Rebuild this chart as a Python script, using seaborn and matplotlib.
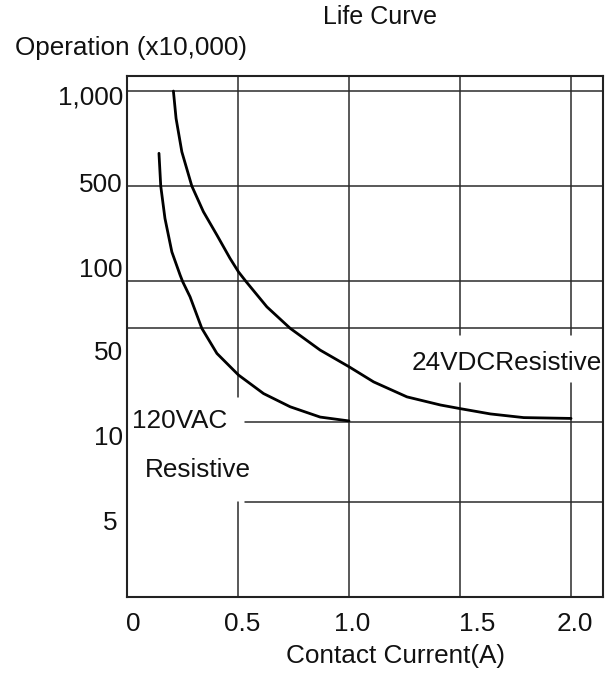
import numpy as np
import pandas as pd
import seaborn as sns
import matplotlib.pyplot as plt
from matplotlib.transforms import ScaledTranslation

# life curves (operations x10,000)
dc_current = [0.209, 0.221, 0.247, 0.292, 0.344, 0.405, 0.464, 0.502, 0.537, 0.630,
              0.735, 0.870, 1.0, 1.111, 1.261, 1.412, 1.5, 1.637, 1.787, 2.0]
dc_life = [1000, 819, 642, 500, 324, 218, 147, 117, 99, 68.4,
           49.8, 34.3, 25.8, 19.9, 15.4, 13.4, 12.6, 11.5, 10.8, 10.65]

ac_current = [0.144, 0.152, 0.171, 0.202, 0.239, 0.251, 0.284, 0.337, 0.405, 0.502,
              0.615, 0.735, 0.870, 1.0]
ac_life = [635, 500, 289, 164, 111, 99, 79.3, 49.8, 32.4, 22.4,
           16.3, 13.0, 10.9, 10.2]

y_ticks = [5, 10, 50, 100, 500, 1000]
y_tick_labels = ["5", "10", "50", "100", "500", "1,000"]
x_ticks = [0, 0.5, 1.0, 1.5, 2.0]
x_tick_labels = ["0", "0.5", "1.0", "1.5", "2.0"]

# the printed axis is not a true log axis: each gridline has its own row,
# so map log(value) piecewise onto those rows
anchor_logs = np.log10([1, 5, 10, 50, 100, 500, 1000, 10000])
anchor_rows = -np.array([688, 502, 422, 328, 281, 186, 91, -225.0])


def fwd(v):
    v = np.clip(np.asarray(v, dtype=float), 1e-6, None)
    return np.interp(np.log10(v), anchor_logs, anchor_rows)


def inv(p):
    return 10 ** np.interp(p, anchor_rows, anchor_logs)


def main():
    sns.set_theme(style="white")
    plt.rcParams["font.family"] = ["Liberation Sans", "DejaVu Sans"]
    fs = 18.8

    df = pd.concat([
        pd.DataFrame({"current": dc_current, "life": dc_life, "load": "24VDC"}),
        pd.DataFrame({"current": ac_current, "life": ac_life, "load": "120VAC"}),
    ])

    fig = plt.figure(figsize=(6.06, 6.76), dpi=100)
    ax = fig.add_axes([127 / 606, 79 / 676, 476 / 606, 521 / 676])
    ax.set_yscale("function", functions=(fwd, inv))

    sns.lineplot(data=df, x="current", y="life", hue="load",
                 palette={"24VDC": "black", "120VAC": "black"},
                 estimator=None, sort=False, legend=False, lw=2.0, ax=ax, zorder=3)

    ax.set_xlim(0, 2.144)
    ax.set_ylim(2.2, 1116)

    # grid, with the gaps the printed chart leaves around its labels
    gc = dict(color="#2b2b2b", lw=1.1, zorder=1)
    for v in [1000, 500, 100, 50]:
        ax.axhline(v, **gc)
    for v in [10, 5]:
        ax.axhline(v, xmin=0.247, xmax=1, **gc)
    ax.axvline(0.5, ymin=0, ymax=0.182, **gc)
    ax.axvline(0.5, ymin=0.384, ymax=1, **gc)
    ax.axvline(1.0, **gc)
    for v in [1.5, 2.0]:
        ax.axvline(v, ymin=0, ymax=0.411, **gc)
        ax.axvline(v, ymin=0.503, ymax=1, **gc)

    for s in ax.spines.values():
        s.set_visible(True)
        s.set_color("#222222")
        s.set_linewidth(1.5)

    ax.tick_params(axis="both", length=0, labelsize=fs, colors="#111111")
    ax.tick_params(axis="y", pad=3)
    ax.tick_params(axis="x", pad=11)
    ax.set_yticks(y_ticks)
    ax.set_yticklabels(y_tick_labels)
    ax.set_xticks(x_ticks)
    ax.set_xticklabels(x_tick_labels)
    ax.yaxis.set_minor_locator(plt.NullLocator())

    # scanned labels do not sit exactly on their gridlines
    y_shift = [(-5, 18), (0, 13), (0, 22), (0, -14), (0, -4), (0, 3.5)]
    for lab, (dx, dy) in zip(ax.get_yticklabels(), y_shift):
        lab.set_transform(lab.get_transform() + ScaledTranslation(dx / 100, -dy / 100, fig.dpi_scale_trans))
    x_shift = [6, 4, 3, 17, 4]
    for lab, dx in zip(ax.get_xticklabels(), x_shift):
        lab.set_transform(lab.get_transform() + ScaledTranslation(dx / 100, 0, fig.dpi_scale_trans))

    ax.set_xlabel("Contact Current(A)", fontsize=fs, color="#111111")
    ax.xaxis.set_label_coords(0.565, -0.09)
    ax.set_ylabel("")

    ax.text(1.284, 27.5, "24VDCResistive", fontsize=fs, ha="left", va="center", color="#111111")
    ax.text(0.023, 10.2, "120VAC", fontsize=fs, ha="left", va="center", color="#111111")
    ax.text(0.081, 6.6, "Resistive", fontsize=fs, ha="left", va="center", color="#111111")

    fig.text(380 / 606, 1 - 17 / 676, "Life Curve", fontsize=18, ha="center", va="center", color="#111111")
    fig.text(15 / 606, 1 - 48 / 676, "Operation (x10,000)", fontsize=fs, ha="left", va="center", color="#111111")

    fig.savefig("out.png", dpi=100)


if __name__ == "__main__":
    main()
